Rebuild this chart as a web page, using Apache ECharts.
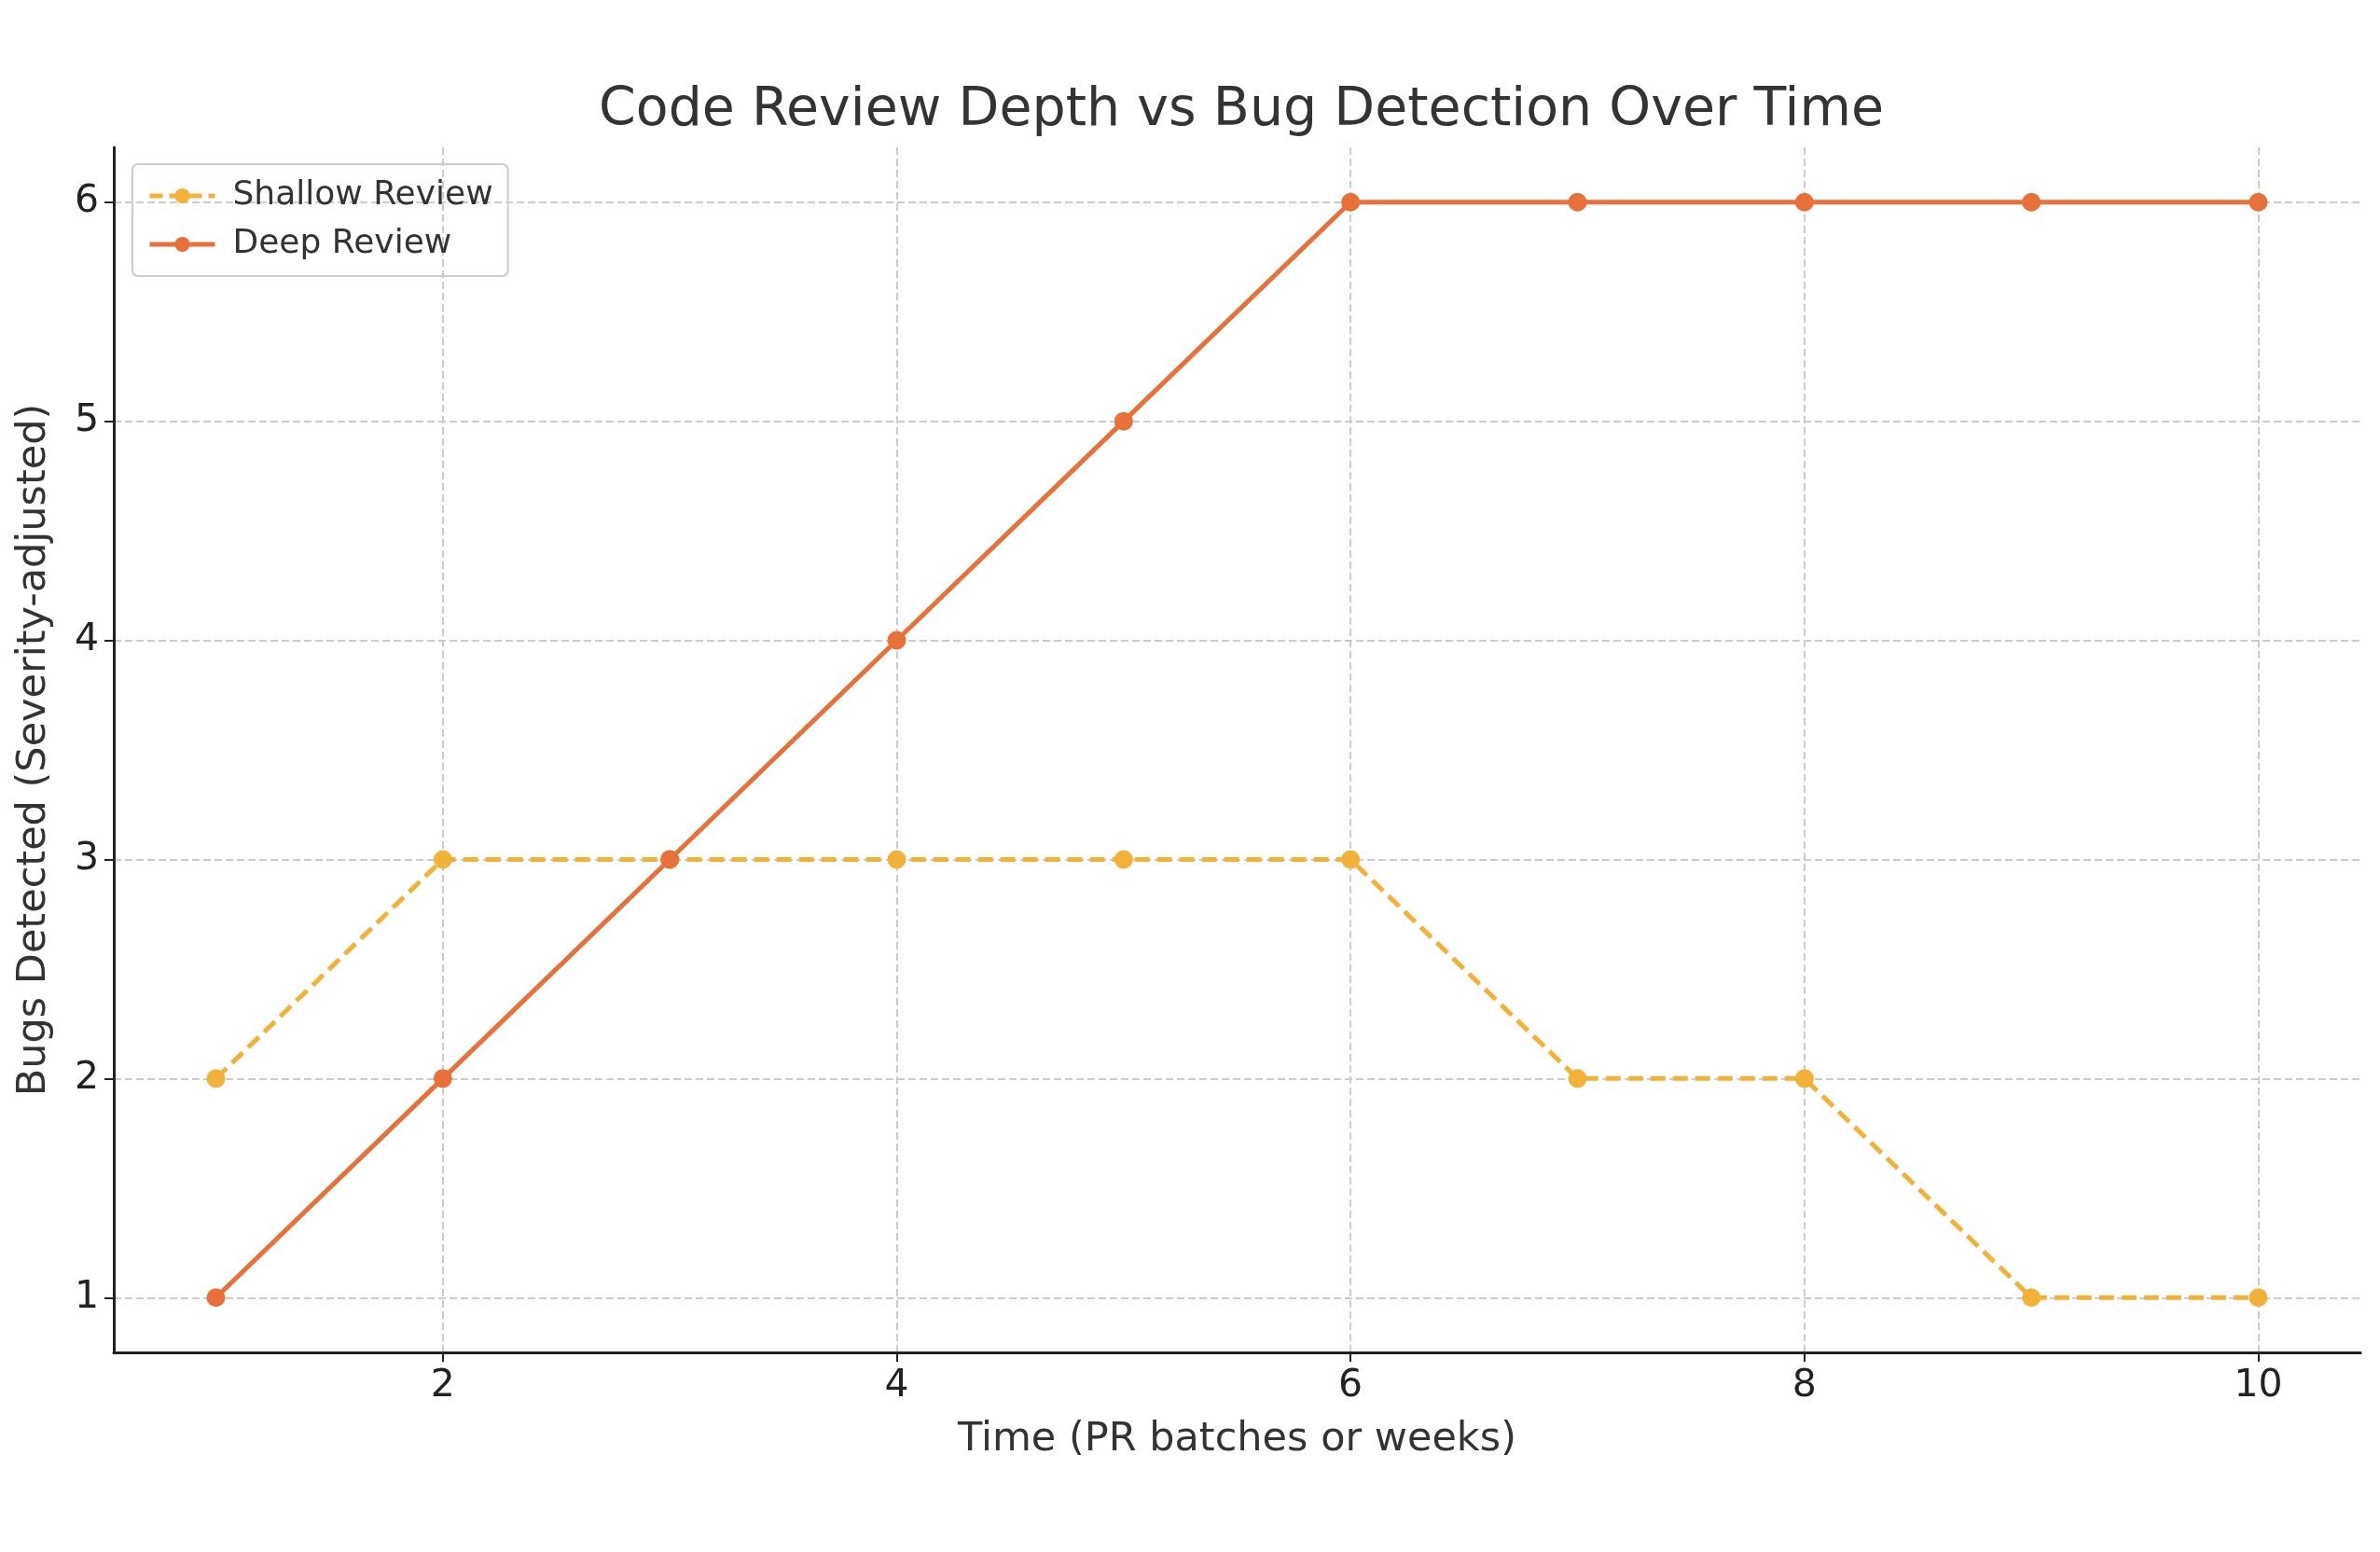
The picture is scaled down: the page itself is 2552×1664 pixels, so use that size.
<!DOCTYPE html>
<html><head><meta charset="utf-8">
<script src="https://cdn.jsdelivr.net/npm/echarts@6/dist/echarts.min.js"></script>
<style>html,body{margin:0;padding:0;background:#fff}#c{width:2552px;height:1664px}</style>
</head><body><div id="c"></div>
<script>
const xValues = [1,2,3,4,5,6,7,8,9,10];
const shallow = [2,3,3,3,3,3,2,2,1,1];
const deep = [1,2,3,4,5,6,6,6,6,6];
const xTicks = [2,4,6,8,10];
const yTicks = [1,2,3,4,5,6];
const font = 'DejaVu Sans';
const cS = '#F2B23A', cD = '#E8703A';
const chart = echarts.init(document.getElementById('c'));
chart.setOption({
  backgroundColor:'#fff',
  animation:false,
  title:{text:'Code Review Depth vs Bug Detection Over Time',left:1326,top:86,textAlign:'center',
    textStyle:{fontFamily:font,fontSize:57,fontWeight:'normal',color:'#333'}},
  grid:{left:122,right:21,top:158,bottom:214},
  legend:{left:142,top:176,orient:'vertical',itemWidth:70,itemHeight:20,itemGap:16,padding:[16,16,16,16],
    borderColor:'#ccc',borderWidth:2,borderRadius:6,
    textStyle:{fontFamily:font,fontSize:36,color:'#333',padding:[0,0,0,14]},
    data:[
      {name:'Shallow Review',lineStyle:{width:5,type:[14,7],color:cS},itemStyle:{color:cS}},
      {name:'Deep Review',lineStyle:{width:5,color:cD},itemStyle:{color:cD}}
    ]},
  xAxis:{type:'value',min:0.55,max:10.45,
    name:'Time (PR batches or weeks)',nameLocation:'middle',nameGap:72,
    nameTextStyle:{fontFamily:font,fontSize:43,color:'#333'},
    axisLine:{lineStyle:{color:'#222',width:3}},
    axisTick:{show:true,customValues:xTicks,length:10,lineStyle:{color:'#222',width:2}},
    axisLabel:{customValues:xTicks,fontFamily:font,fontSize:41,color:'#222',margin:16},
    splitLine:{show:true,lineStyle:{color:'#ccc',type:'dashed',width:2}}},
  yAxis:{type:'value',min:0.75,max:6.25,
    name:'Bugs Detected (Severity-adjusted)',nameLocation:'middle',nameGap:64,
    nameTextStyle:{fontFamily:font,fontSize:43,color:'#333'},
    axisLine:{show:true,lineStyle:{color:'#222',width:3}},
    axisTick:{show:true,customValues:yTicks,length:10,lineStyle:{color:'#222',width:2}},
    axisLabel:{customValues:yTicks,fontFamily:font,fontSize:41,color:'#222',margin:16},
    splitLine:{show:true,lineStyle:{color:'#ccc',type:'dashed',width:2}}},
  series:[
    {name:'Shallow Review',type:'line',data:xValues.map((x,i)=>[x,shallow[i]]),
      symbol:'circle',symbolSize:20,color:cS,
      lineStyle:{width:5,type:[16,8],color:cS},itemStyle:{color:cS}},
    {name:'Deep Review',type:'line',data:xValues.map((x,i)=>[x,deep[i]]),
      symbol:'circle',symbolSize:20,color:cD,
      lineStyle:{width:5,color:cD},itemStyle:{color:cD}}
  ]
});
</script></body></html>
